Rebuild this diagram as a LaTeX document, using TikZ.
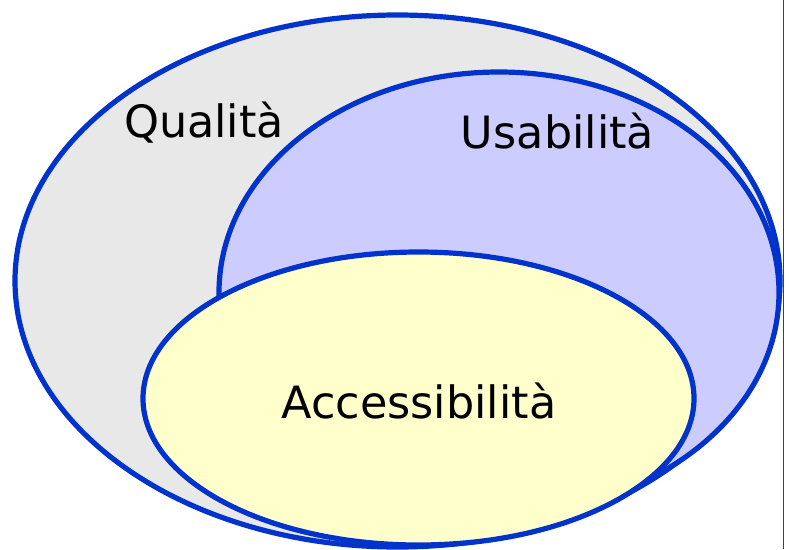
\documentclass[tikz,border=0pt]{standalone}
\usepackage{fontspec}
\setmainfont{DejaVu Sans}
\usetikzlibrary{shapes.geometric}
\definecolor{edgeblue}{RGB}{0,51,204}
\definecolor{qualfill}{RGB}{232,232,232}
\definecolor{usafill}{RGB}{204,204,255}
\definecolor{accfill}{RGB}{255,255,204}
\begin{document}
\begin{tikzpicture}[x=1pt,y=-1pt,
  setshape/.style={ellipse, draw=edgeblue, line width=5.2pt, inner sep=0pt, outer sep=0pt},
  setlabel/.style={anchor=base, font=\fontsize{44.5}{50}\selectfont, inner sep=0pt}]
\useasboundingbox (0,0) rectangle (789,549);
\fill[white] (0,0) rectangle (789,549);
\node[setshape, fill=qualfill, minimum width=765pt, minimum height=532pt] (qual) at (397.5,281) {};
\node[setshape, fill=usafill, minimum width=560pt, minimum height=441pt] (usa) at (499,292.5) {};
\node[setshape, fill=accfill, minimum width=551pt, minimum height=293pt] (acc) at (418.5,398.5) {};
\node[setlabel] (tq) at (204,137) {Qualità};
\node[setlabel] (tu) at (557.5,148) {Usabilità};
\node[setlabel] (ta) at (419,418) {Accessibilità};
\coordinate (ltop) at (783.5,0);
\coordinate (lbot) at (783.5,549);
\draw[black!75, line width=1.3pt] (ltop) -- (lbot);
\end{tikzpicture}
\end{document}
